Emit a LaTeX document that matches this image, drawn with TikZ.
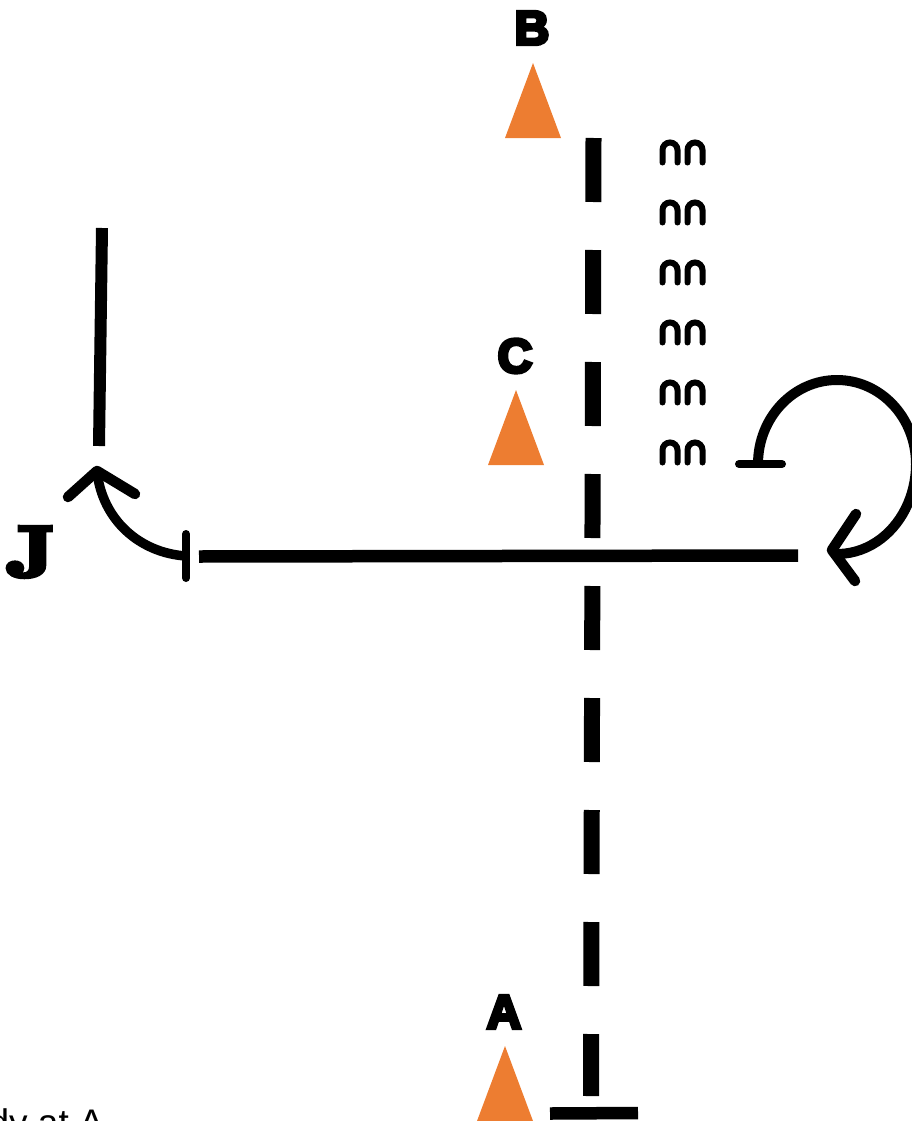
\documentclass[tikz,border=0pt]{standalone}
\usepackage{fontspec}
\setmainfont{Liberation Sans}
\newfontfamily\blackfont[FakeBold=7]{Liberation Sans Bold}
\newfontfamily\fatfont[FakeBold=6,FakeStretch=1.3]{Latin Modern Roman Demi}
\definecolor{markorange}{HTML}{ED7D31}
\tikzset{
	sitelabel/.style={inner sep=0pt, font=\blackfont\fontsize{48}{48}\selectfont},
	curvearrow/.style={line width=10pt},
	headstroke/.style={line width=10.5pt, line cap=round, line join=round},
}

\begin{document}
\begin{tikzpicture}[x=1pt,y=-1pt]
	\useasboundingbox (0,0) rectangle (911,1121);
	%\draw[help lines, thick] (0,0) grid (911,1121);
	% triangles and their letters
	\foreach \tipx/\tipy in {533/63, 516/390, 505/1046}
		\fill[markorange] (\tipx,\tipy) -- ++(28,75) -- ++(-56,0) -- cycle;
	\node[sitelabel] (labelB) at (532,28) {B};
	\node[sitelabel] (labelC) at (515,356) {C};
	\node[sitelabel] (labelA) at (504,1012) {A};
	\node[inner sep=0pt, font=\fatfont\fontsize{72}{72}\selectfont] (labelJ) at (32,552) {J};
	% main lines
	\coordinate (dashTop) at (593.5,138);
	\coordinate (dashEnd) at (591,1096);
	\coordinate (armLeft) at (199,556.5);
	\coordinate (armRight) at (798,555.5);
	\draw[line width=16pt, dash pattern=on 64pt off 48pt] (dashTop) -- (dashEnd);
	\draw[line width=12.5pt] (armLeft) -- (armRight);
	\draw[line width=12.5pt] (550,1113.5) -- (638,1113);
	\draw[line width=12pt] (102,228) -- (99,446);
	% left turn
	\coordinate (barLeft) at (186,556);
	\coordinate (tipLeft) at (97,471);
	\draw[headstroke, line width=8pt] (186,534) -- (186,578);
	\draw[curvearrow, line width=9.5pt] (barLeft) .. controls (140,553) and (102,520) .. (tipLeft);
	\draw[headstroke] (68,497) -- (tipLeft) -- (135,494);
	% right turn
	\coordinate (barRight) at (758,464);
	\coordinate (tipRight) at (832,550);
	\draw[headstroke, line width=8pt] (739,464) -- (782,464);
	\draw[curvearrow] (barRight) arc[start angle=180, end angle=0, x radius=79, y radius=-84]
		arc[start angle=0, end angle=-93, x radius=79, y radius=-90];
	\draw[headstroke] (856,514) -- (tipRight) -- (855,581);
	% little arches
	\foreach \row in {0,...,5}
		\foreach \archx in {662.5,687.5}
			\draw[line width=6pt, line cap=round] (\archx,162.5+60*\row) -- (\archx,150+60*\row)
				arc[start angle=180, end angle=0, x radius=7.5, y radius=-7.5] -- ++(0,12.5);
	\node[anchor=base east, inner sep=0pt, font=\fontsize{37}{37}\selectfont] (caption) at (104,1135) {dy at A};
\end{tikzpicture}
\end{document}
